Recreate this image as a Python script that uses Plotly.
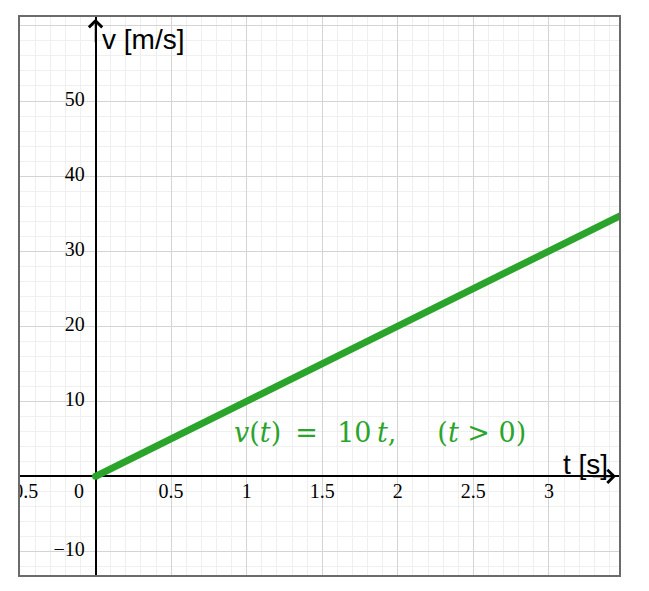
import plotly.graph_objects as go

# Data
t_vals = [0, 3.5]
v_vals = [0, 35]
x_tick_vals = [-0.5, 0.5, 1, 1.5, 2, 2.5, 3]
x_tick_text = ["\u22120.5", "0.5", "1", "1.5", "2", "2.5", "3"]
y_tick_vals = [-10, 10, 20, 30, 40, 50]
y_tick_text = ["\u221210", "10", "20", "30", "40", "50"]
formula_text = ("<i>v</i>(<i>t</i>)\u00a0\u2009=\u00a0\u2009\u200910\u2009<i>t</i>,"
                "\u2003\u00a0\u2009(<i>t</i>\u00a0>\u00a00)")

GREEN = "#2ba42b"
X_RANGE = [-0.5, 3.464]
Y_RANGE = [-13.14, 61.19]

fig = go.Figure()

# main line
fig.add_trace(go.Scatter(
    x=t_vals, y=v_vals, mode="lines",
    line=dict(color=GREEN, width=7),
    hoverinfo="skip", showlegend=False, cliponaxis=True,
))
fig.add_trace(go.Scatter(
    x=[t_vals[0]], y=[v_vals[0]], mode="markers",
    marker=dict(color=GREEN, size=7),
    hoverinfo="skip", showlegend=False,
))

serif = "Liberation Serif, Times New Roman, serif"
sans = "Liberation Sans, Arial, sans-serif"
math = "DejaVu Serif, serif"

# x tick labels (scatter text so it clips at the plot edge)
fig.add_trace(go.Scatter(
    x=x_tick_vals, y=[-2.16] * len(x_tick_vals), mode="text",
    text=x_tick_text, textposition="middle center",
    textfont=dict(family=serif, size=20, color="#000"),
    hoverinfo="skip", showlegend=False, cliponaxis=True,
))
# origin label
fig.add_trace(go.Scatter(
    x=[-0.11], y=[-2.16], mode="text", text=["0"],
    textposition="middle center",
    textfont=dict(family=serif, size=20, color="#000"),
    hoverinfo="skip", showlegend=False, cliponaxis=True,
))
# y tick labels
fig.add_trace(go.Scatter(
    x=[-0.072] * len(y_tick_vals), y=y_tick_vals, mode="text",
    text=y_tick_text, textposition="middle left",
    textfont=dict(family=serif, size=20, color="#000"),
    hoverinfo="skip", showlegend=False, cliponaxis=True,
))

annotations = [
    # formula
    dict(x=1.885, y=5.85, xref="x", yref="y", text=formula_text, showarrow=False,
         font=dict(family=math, size=27, color=GREEN), xanchor="center", yanchor="middle"),
    # axis labels
    dict(x=0.03, y=61.19 - 2.95, xref="x", yref="y", text="v [m/s]", showarrow=False,
         font=dict(family=sans, size=28, color="#000"), xanchor="left", yanchor="middle"),
    dict(x=3.08, y=1.6, xref="x", yref="y", text="t [s]", showarrow=False,
         font=dict(family=sans, size=28, color="#000"), xanchor="left", yanchor="middle"),
    # axis arrows
    dict(x=0, y=0.997, xref="x", yref="paper", ax=0, ay=25, axref="pixel", ayref="pixel",
         text="", showarrow=True, arrowhead=4, arrowsize=1.6, arrowwidth=1.6, arrowcolor="#000"),
    dict(x=0.995, y=0, xref="paper", yref="y", ax=-25, ay=0,
         text="", showarrow=True, arrowhead=4, arrowsize=1.6, arrowwidth=1.6, arrowcolor="#000"),
]

axis_common = dict(
    showline=True, mirror=True, linecolor="#6b6b6b", linewidth=2,
    showgrid=True, gridcolor="#d4d4d4", gridwidth=1.3,
    zeroline=True, zerolinecolor="#000", zerolinewidth=2,
    showticklabels=False, ticks="", fixedrange=True,
)

fig.update_layout(
    width=649, height=591,
    margin=dict(l=12, r=38, t=7, b=24),
    paper_bgcolor="white", plot_bgcolor="white",
    xaxis=dict(range=X_RANGE, dtick=0.5, tick0=0,
               minor=dict(dtick=0.1, showgrid=True, gridcolor="#efefef", gridwidth=1),
               **axis_common),
    yaxis=dict(range=Y_RANGE, dtick=10, tick0=0,
               minor=dict(dtick=2, showgrid=True, gridcolor="#efefef", gridwidth=1),
               **axis_common),
    annotations=annotations,
    showlegend=False,
)

fig.write_html("out.html")
